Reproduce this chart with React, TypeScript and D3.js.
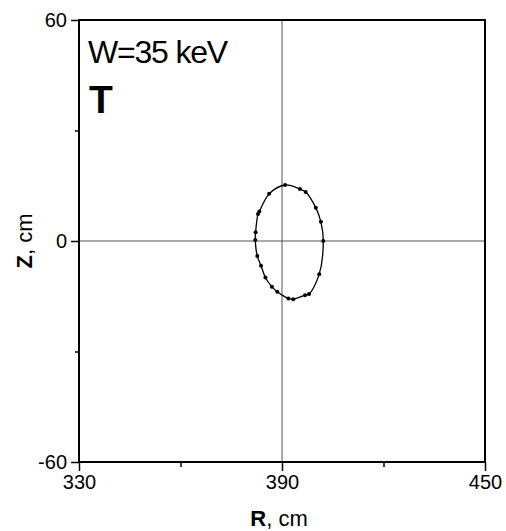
import { useEffect, useRef } from 'react';
import * as d3 from 'd3';

// ellipse points, clockwise from the top
const rValues = [390.9, 395.3, 397.0, 400.0, 401.5, 402.2, 401.0, 398.0, 396.8, 393.3, 391.9, 388.6, 387.0, 385.1, 383.8, 382.7, 382.1, 382.2, 382.9, 383.3, 386.2];
const zValues = [15.2, 14.1, 13.3, 9.0, 5.2, 0.0, -9.0, -14.4, -14.7, -15.8, -15.6, -13.8, -12.4, -9.9, -6.7, -4.1, 0.3, 2.4, 7.3, 8.0, 12.8];

const xTicks = [330, 390, 450];
const xMinor = [360, 420];
const yTicks = [-60, 0, 60];
const yMinor = [-30, 30];

const FONT = '"Liberation Sans", Arial, sans-serif';

export default function App() {
  const svgRef = useRef<SVGSVGElement>(null);

  useEffect(() => {
    if (!svgRef.current) return;
    const svg = d3.select(svgRef.current);
    svg.selectAll('*').remove();

    const margin = { top: 20, right: 21, bottom: 69, left: 79 };
    const width = 506;
    const height = 531;
    const innerWidth = width - margin.left - margin.right;
    const innerHeight = height - margin.top - margin.bottom;

    const x = d3.scaleLinear().domain([330, 450]).range([0, innerWidth]);
    const y = d3.scaleLinear().domain([-60, 60]).range([innerHeight, 0]);

    const g = svg.append('g').attr('transform', `translate(${margin.left},${margin.top})`);

    // crosshair lines
    g.append('line')
      .attr('x1', x(390)).attr('x2', x(390))
      .attr('y1', 0).attr('y2', innerHeight)
      .style('stroke', '#555').style('stroke-width', 1);
    g.append('line')
      .attr('x1', 0).attr('x2', innerWidth)
      .attr('y1', y(0)).attr('y2', y(0))
      .style('stroke', '#555').style('stroke-width', 1);

    // frame
    g.append('rect')
      .attr('width', innerWidth)
      .attr('height', innerHeight)
      .style('fill', 'none')
      .style('stroke', '#000')
      .style('stroke-width', 2);

    const fmt = (d: any) => String(d);

    // ticks
    const xAxis = g.append('g').attr('transform', `translate(0,${innerHeight})`);
    xAxis.call(d3.axisBottom(x).tickValues(xMinor).tickSize(5).tickFormat(() => ''));
    xAxis.append('g').call(d3.axisBottom(x).tickValues(xTicks).tickSize(9).tickPadding(4).tickFormat(fmt));
    xAxis.selectAll('.domain').remove();
    xAxis.selectAll('line').style('stroke', '#000').style('stroke-width', 1.5);
    xAxis.selectAll('text')
      .style('font-family', FONT)
      .style('font-size', '20px')
      .style('fill', '#000');

    const yAxis = g.append('g');
    yAxis.call(d3.axisLeft(y).tickValues(yMinor).tickSize(4).tickFormat(() => ''));
    yAxis.append('g').call(d3.axisLeft(y).tickValues(yTicks).tickSize(8).tickPadding(4).tickFormat(fmt));
    yAxis.selectAll('.domain').remove();
    yAxis.selectAll('line').style('stroke', '#000').style('stroke-width', 1.5);
    yAxis.selectAll('text')
      .style('font-family', FONT)
      .style('font-size', '20px')
      .style('fill', '#000');

    // ellipse
    const pts: [number, number][] = rValues.map((r, i) => [x(r), y(zValues[i])]);
    const line = d3.line().curve(d3.curveCatmullRomClosed.alpha(0.5));
    g.append('path')
      .attr('d', line(pts))
      .style('fill', 'none')
      .style('stroke', '#000')
      .style('stroke-width', 1.3);
    g.selectAll('circle.pt')
      .data(pts)
      .enter()
      .append('circle')
      .attr('class', 'pt')
      .attr('cx', d => d[0])
      .attr('cy', d => d[1])
      .attr('r', 2)
      .style('fill', '#000');

    // annotations
    g.append('text')
      .attr('x', 9).attr('y', 43)
      .style('font-family', FONT).style('font-size', '32px')
      .style('letter-spacing', '-1.2px')
      .text('W=35 keV');
    g.append('text')
      .attr('x', 10).attr('y', 93)
      .style('font-family', FONT).style('font-size', '39px').style('font-weight', 'bold')
      .text('T');

    // axis titles
    const xt = svg.append('text')
      .attr('x', 279).attr('y', 526)
      .attr('text-anchor', 'middle')
      .style('font-family', FONT).style('font-size', '22px');
    xt.append('tspan').style('font-weight', 'bold').text('R');
    xt.append('tspan').text(', cm');

    const yt = svg.append('text')
      .attr('transform', `translate(32,${margin.top + y(0)}) rotate(-90)`)
      .attr('text-anchor', 'middle')
      .style('font-family', FONT).style('font-size', '22px');
    yt.append('tspan').style('font-weight', 'bold').text('Z');
    yt.append('tspan').text(', cm');
  }, []);

  return (
    <svg
      ref={svgRef}
      width={506}
      height={531}
      style={{ position: 'absolute', left: 0, top: 0, background: '#fff' }}
    />
  );
}
